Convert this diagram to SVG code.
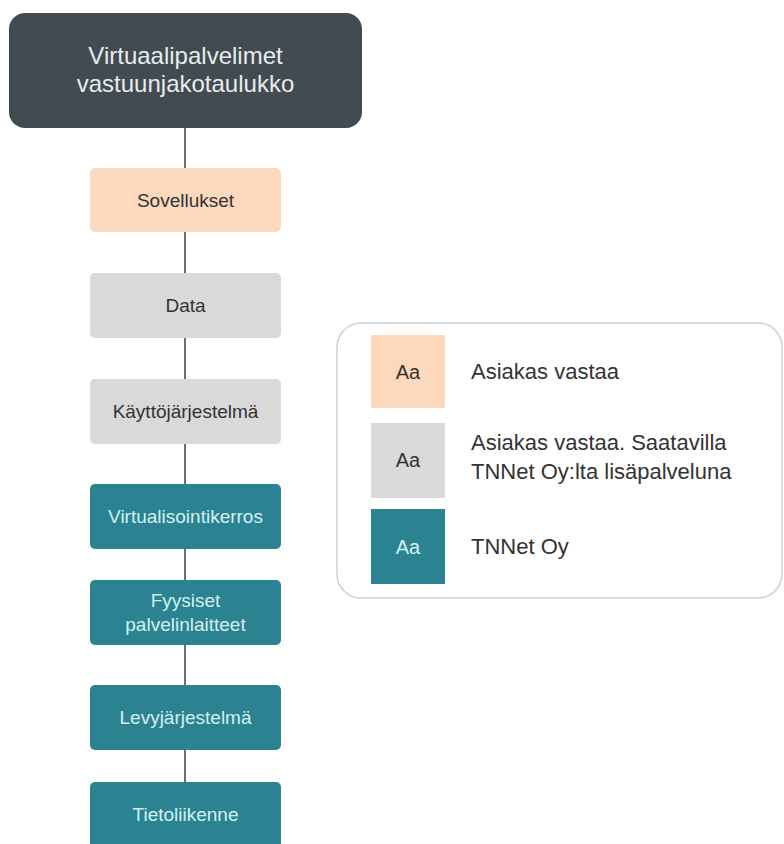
<svg xmlns="http://www.w3.org/2000/svg" width="784" height="844" viewBox="0 0 784 844">
<style>
text{font-family:"Liberation Sans",Arial,sans-serif;text-anchor:middle}
.n{font-size:19px}
.peach{fill:#fcd8bd}
.gray{fill:#d9d9d9}
.teal{fill:#2b8392}
.dk{fill:#333333}
.lt{fill:#d3f1f1}
.conn{stroke:#6f6f6f;stroke-width:2;fill:none}
.lg{font-size:22px;text-anchor:start;fill:#333333}
.aa{font-size:20px}
</style>
<rect width="784" height="844" fill="#ffffff"/>
<g id="connectors">
<line class="conn" x1="185" y1="128" x2="185" y2="168"/>
<line class="conn" x1="185" y1="232" x2="185" y2="273"/>
<line class="conn" x1="185" y1="338" x2="185" y2="379"/>
<line class="conn" x1="185" y1="444" x2="185" y2="484"/>
<line class="conn" x1="185" y1="549" x2="185" y2="580"/>
<line class="conn" x1="185" y1="645" x2="185" y2="685"/>
<line class="conn" x1="185" y1="750" x2="185" y2="782"/>
</g>
<g id="title">
<rect x="9" y="13" width="353" height="115" rx="16" fill="#414b50"/>
<text x="185.5" y="64" font-size="24" fill="#e8ecee">Virtuaalipalvelimet</text>
<text x="185.5" y="92" font-size="24" fill="#e8ecee">vastuunjakotaulukko</text>
</g>
<g id="sovellukset">
<rect class="peach" x="90" y="168" width="191" height="64" rx="5"/>
<text class="n dk" x="185.5" y="207">Sovellukset</text>
</g>
<g id="data">
<rect class="gray" x="90" y="273" width="191" height="65" rx="5"/>
<text class="n dk" x="185.5" y="312">Data</text>
</g>
<g id="kayttojarjestelma">
<rect class="gray" x="90" y="379" width="191" height="65" rx="5"/>
<text class="n dk" x="185.5" y="418">Käyttöjärjestelmä</text>
</g>
<g id="virtualisointikerros">
<rect class="teal" x="90" y="484" width="191" height="65" rx="5"/>
<text class="n lt" x="185.5" y="523">Virtualisointikerros</text>
</g>
<g id="fyysiset">
<rect class="teal" x="90" y="580" width="191" height="65" rx="5"/>
<text class="n lt" x="185.5" y="607">Fyysiset</text>
<text class="n lt" x="185.5" y="631">palvelinlaitteet</text>
</g>
<g id="levyjarjestelma">
<rect class="teal" x="90" y="685" width="191" height="65" rx="5"/>
<text class="n lt" x="185.5" y="724">Levyjärjestelmä</text>
</g>
<g id="tietoliikenne">
<rect class="teal" x="90" y="782" width="191" height="68" rx="5"/>
<text class="n lt" x="185.5" y="821">Tietoliikenne</text>
</g>
<g id="legend">
<rect x="337" y="323" width="445" height="275" rx="24" fill="#ffffff" stroke="#cfcfcf" stroke-width="1.5"/>
<rect class="peach" x="371" y="335" width="74" height="73"/>
<text class="aa dk" x="408" y="379">Aa</text>
<text class="lg" x="471" y="379">Asiakas vastaa</text>
<rect class="gray" x="371" y="423" width="74" height="75"/>
<text class="aa dk" x="408" y="467">Aa</text>
<text class="lg" x="471" y="450">Asiakas vastaa. Saatavilla</text>
<text class="lg" x="471" y="479">TNNet Oy:lta lisäpalveluna</text>
<rect class="teal" x="371" y="509" width="74" height="75"/>
<text class="aa lt" x="408" y="554">Aa</text>
<text class="lg" x="471" y="554">TNNet Oy</text>
</g>
</svg>
